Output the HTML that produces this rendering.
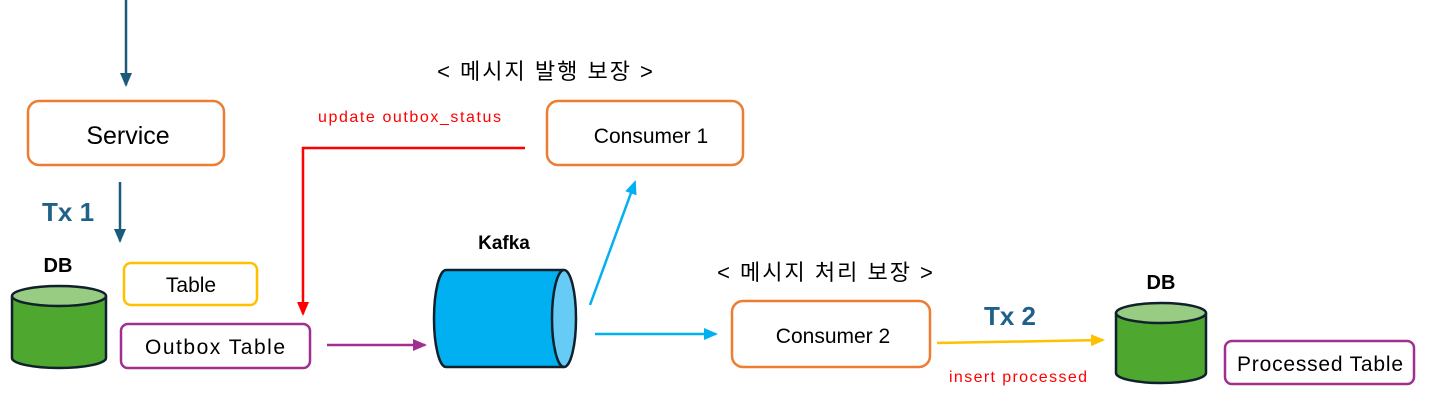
<!DOCTYPE html>
<html><head><meta charset="utf-8"><style>
html,body{margin:0;padding:0;background:#fff;}
svg{display:block;}
text{font-family:"Liberation Sans","Noto Sans CJK KR",sans-serif;}
</style></head><body>
<svg width="1429" height="407" viewBox="0 0 1429 407" xmlns="http://www.w3.org/2000/svg">
<defs>
<marker id="ab" markerWidth="14" markerHeight="14" refX="12" refY="7" orient="auto" markerUnits="userSpaceOnUse"><path d="M0,1 L14,7 L0,13 z" fill="#1a5b7c"/></marker>
<marker id="ar" markerWidth="14" markerHeight="14" refX="12" refY="7" orient="auto" markerUnits="userSpaceOnUse"><path d="M0,1 L14,7 L0,13 z" fill="#ff0000"/></marker>
<marker id="ap" markerWidth="14" markerHeight="14" refX="12" refY="7" orient="auto" markerUnits="userSpaceOnUse"><path d="M0,1 L14,7 L0,13 z" fill="#a0308f"/></marker>
<marker id="ac" markerWidth="14" markerHeight="14" refX="12" refY="7" orient="auto" markerUnits="userSpaceOnUse"><path d="M0,1 L14,7 L0,13 z" fill="#00b0f0"/></marker>
<marker id="ay" markerWidth="14" markerHeight="14" refX="12" refY="7" orient="auto" markerUnits="userSpaceOnUse"><path d="M0,1 L14,7 L0,13 z" fill="#ffc000"/></marker>
</defs>

<line x1="126" y1="0" x2="126" y2="85" stroke="#1a5b7c" stroke-width="2.5" marker-end="url(#ab)"/>
<rect x="28" y="101" width="196" height="64" rx="11" fill="#fff" stroke="#ed7d31" stroke-width="2.5"/>
<text x="128" y="144" font-size="25" text-anchor="middle" fill="#000">Service</text>

<line x1="120" y1="182" x2="120" y2="241" stroke="#1a5b7c" stroke-width="2.5" marker-end="url(#ab)"/>
<text x="42" y="221" font-size="26" font-weight="bold" fill="#1f6189">Tx 1</text>

<text x="58" y="272" font-size="20" font-weight="bold" text-anchor="middle" fill="#000">DB</text>
<path d="M12,296 L12,358 A47,10 0 0 0 106,358 L106,296" fill="#4ea72e" stroke="#10202c" stroke-width="2.5"/>
<ellipse cx="59" cy="296" rx="47" ry="10" fill="#97cc82" stroke="#10202c" stroke-width="2.5"/>

<rect x="124" y="263" width="133" height="42" rx="7" fill="#fff" stroke="#ffc000" stroke-width="2.5"/>
<text x="191" y="292" font-size="21" text-anchor="middle" fill="#000">Table</text>
<rect x="121" y="324" width="189" height="44" rx="7" fill="#fff" stroke="#a0308f" stroke-width="2.5"/>
<text x="215" y="354" font-size="21" text-anchor="middle" fill="#000" textLength="140">Outbox Table</text>

<polyline points="525,148 303,148 303,314" fill="none" stroke="#ff0000" stroke-width="2.5" marker-end="url(#ar)"/>
<text x="318" y="122" font-size="16" fill="#ff0000" textLength="183">update outbox_status</text>

<text x="546" y="79" font-size="22" letter-spacing="2" text-anchor="middle" fill="#000">&lt; 메시지 발행 보장 &gt;</text>
<rect x="547" y="101" width="196" height="64" rx="11" fill="#fff" stroke="#ed7d31" stroke-width="2.5"/>
<text x="651" y="143" font-size="21" text-anchor="middle" fill="#000">Consumer 1</text>

<line x1="327" y1="345" x2="425" y2="345" stroke="#a0308f" stroke-width="2.5" marker-end="url(#ap)"/>

<text x="504" y="249" font-size="19" font-weight="bold" text-anchor="middle" fill="#000">Kafka</text>
<path d="M564,270 L446,270 A12,48.5 0 0 0 446,367 L564,367" fill="#00b0f0" stroke="#10202c" stroke-width="2.5"/>
<ellipse cx="564" cy="318.5" rx="12" ry="48.5" fill="#66ccf5" stroke="#10202c" stroke-width="2.5"/>

<line x1="590" y1="305" x2="635" y2="182" stroke="#00b0f0" stroke-width="2.5" marker-end="url(#ac)"/>
<line x1="595" y1="334" x2="716" y2="334" stroke="#00b0f0" stroke-width="2.5" marker-end="url(#ac)"/>

<text x="826" y="280" font-size="22" letter-spacing="2" text-anchor="middle" fill="#000">&lt; 메시지 처리 보장 &gt;</text>
<rect x="732" y="301" width="198" height="66" rx="11" fill="#fff" stroke="#ed7d31" stroke-width="2.5"/>
<text x="833" y="343" font-size="21" text-anchor="middle" fill="#000">Consumer 2</text>

<text x="1010" y="325" font-size="26" font-weight="bold" text-anchor="middle" fill="#1f6189">Tx 2</text>
<line x1="937" y1="343" x2="1103" y2="340" stroke="#ffc000" stroke-width="2.5" marker-end="url(#ay)"/>
<text x="1018" y="382" font-size="16" text-anchor="middle" fill="#ff0000" textLength="138">insert processed</text>

<text x="1161" y="289" font-size="20" font-weight="bold" text-anchor="middle" fill="#000">DB</text>
<path d="M1116,313 L1116,373 A45,10 0 0 0 1206,373 L1206,313" fill="#4ea72e" stroke="#10202c" stroke-width="2.5"/>
<ellipse cx="1161" cy="313" rx="45" ry="10" fill="#97cc82" stroke="#10202c" stroke-width="2.5"/>

<rect x="1225" y="341" width="189" height="43" rx="7" fill="#fff" stroke="#a0308f" stroke-width="2.5"/>
<text x="1320" y="371" font-size="21" text-anchor="middle" fill="#000" textLength="166">Processed Table</text>
</svg>
</body></html>
